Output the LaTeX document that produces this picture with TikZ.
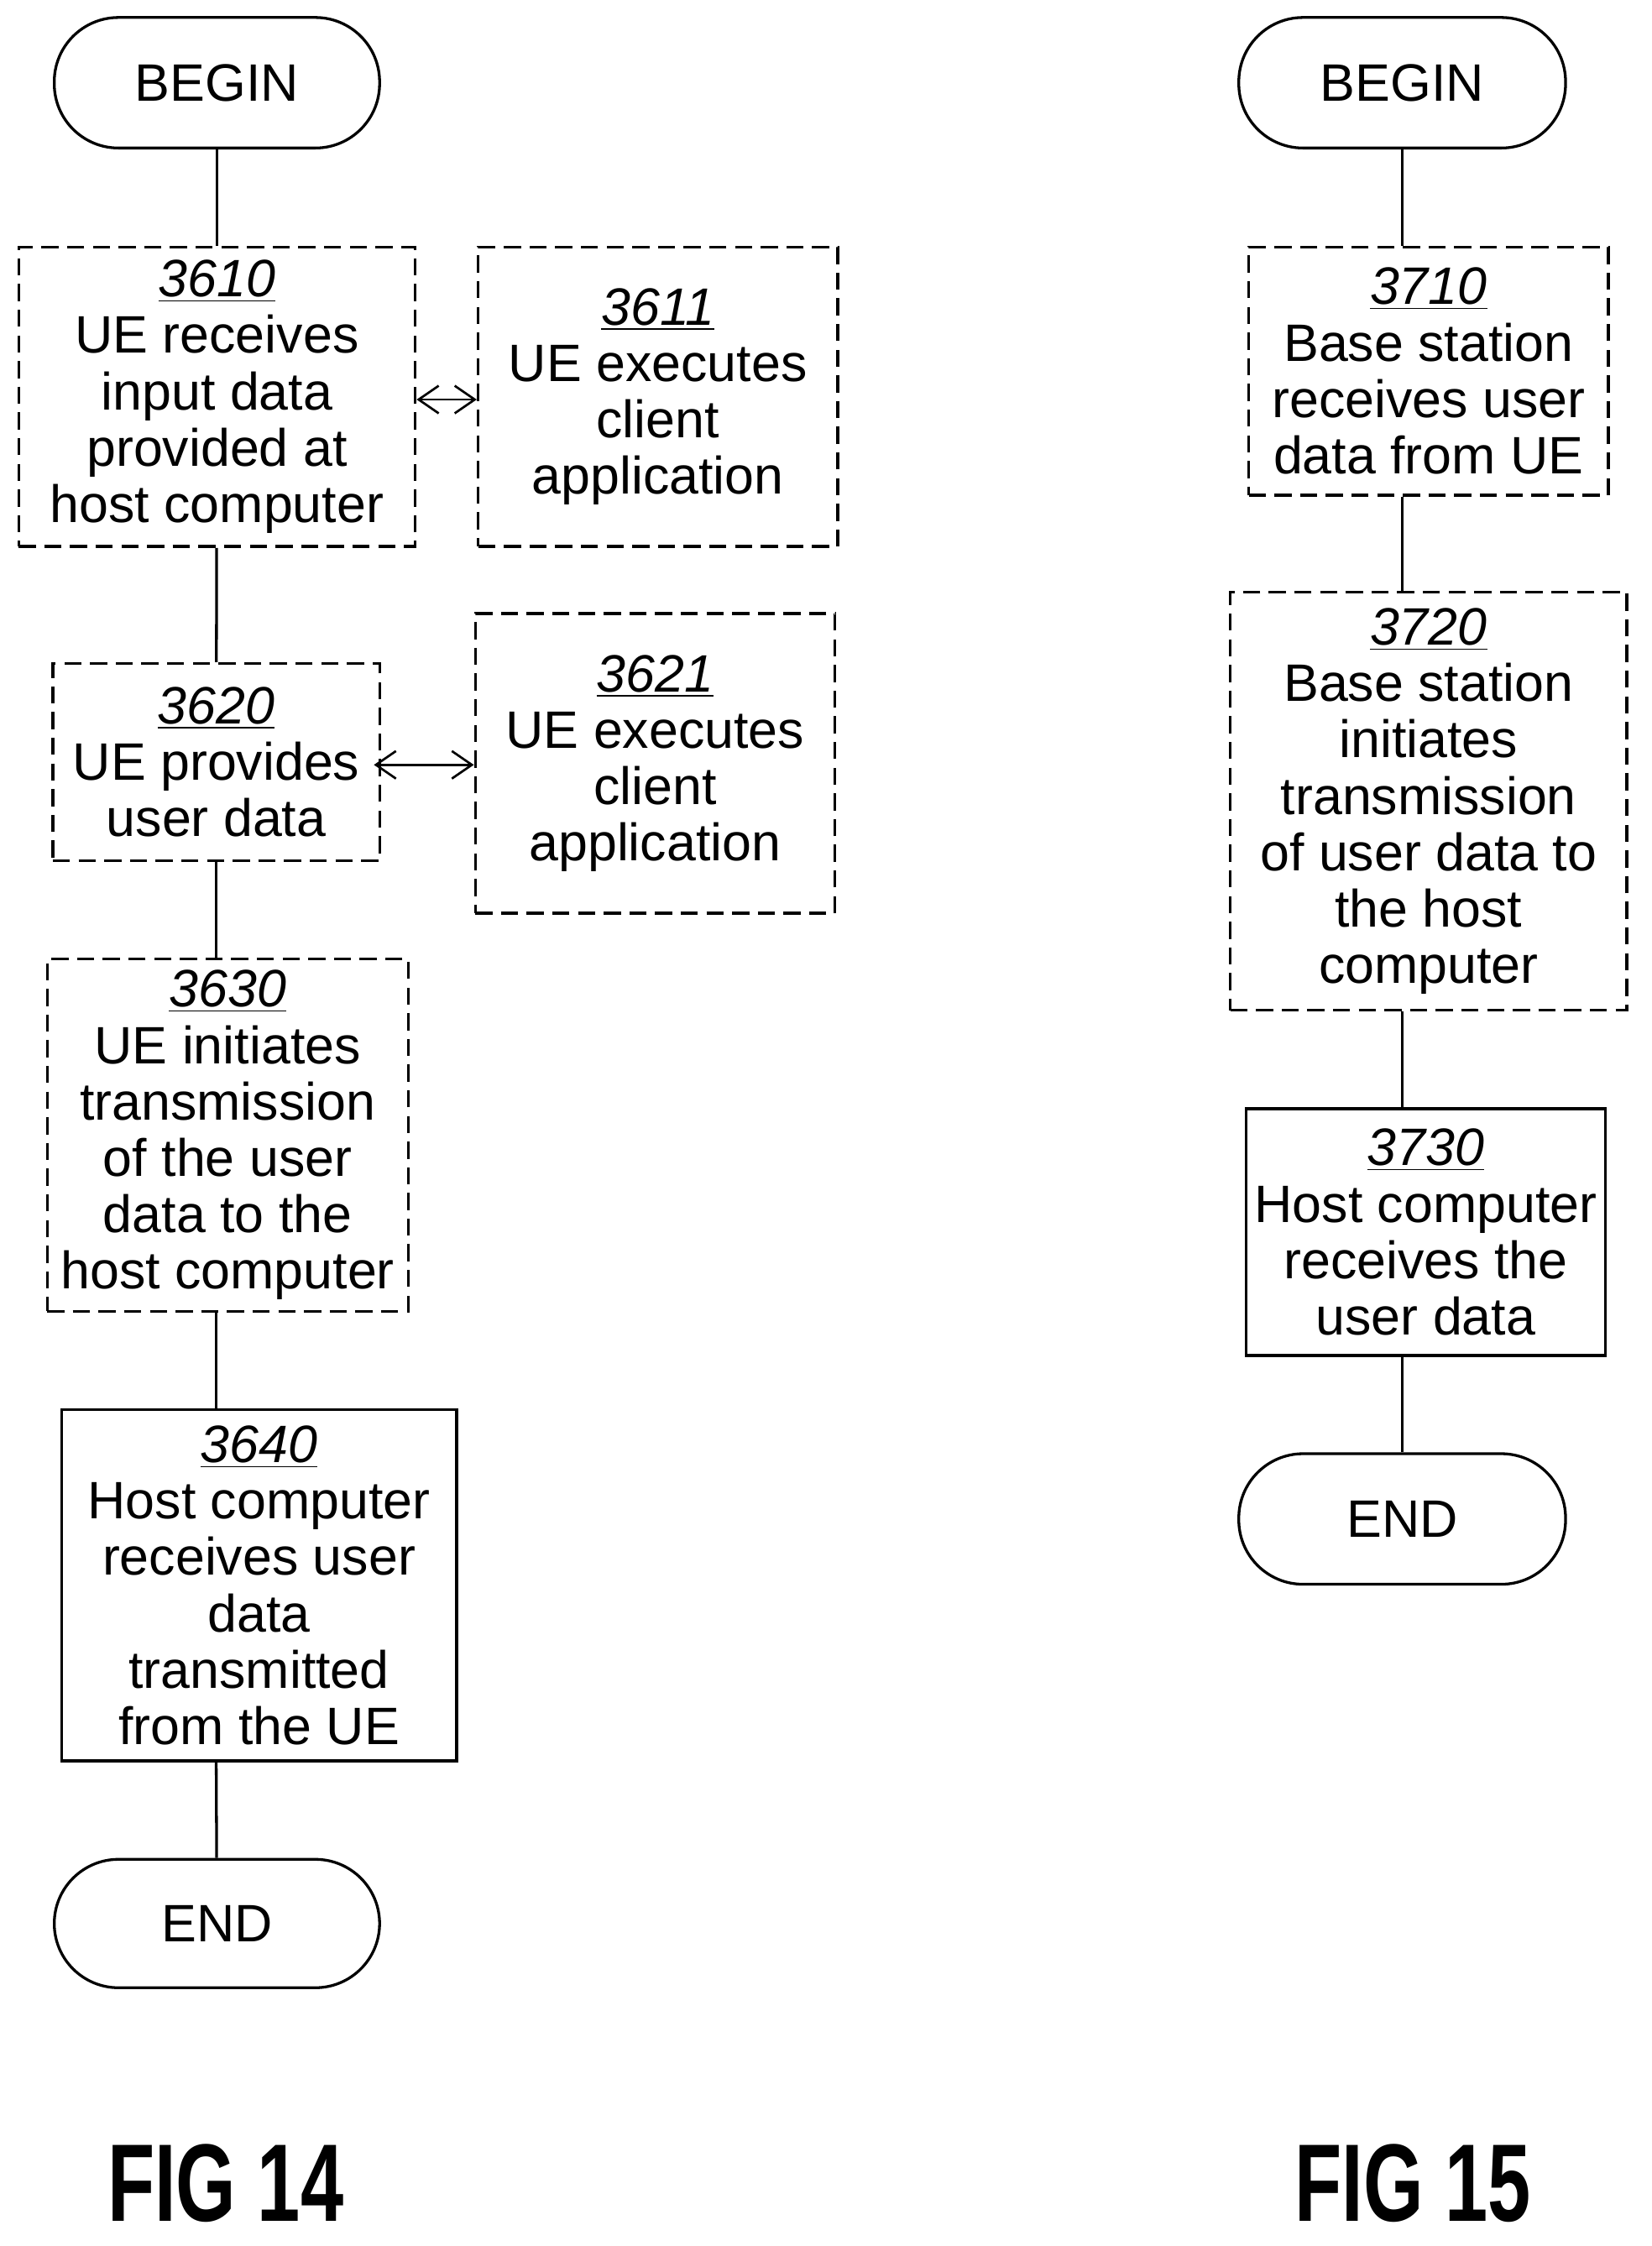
\documentclass[tikz,border=0pt]{standalone}
\usepackage{fontspec}
\setmainfont{Liberation Sans}
\usetikzlibrary{arrows.meta}
\begin{document}
\begin{tikzpicture}[x=0.02cm,y=-0.02cm,line width=1.1pt,
 box/.style={draw,rectangle,align=center,inner sep=0pt,font=\fontsize{21}{22.5}\selectfont},
 dbox/.style={box,dash pattern=on 0.24cm off 0.12cm},
 term/.style={draw,rectangle,rounded corners=0.9cm,minimum width=4.56cm,minimum height=1.83cm,font=\fontsize{21}{22.5}\selectfont},
 fig/.style={font=\fontsize{44}{44}\selectfont\bfseries,xscale=0.7},
 dbl/.style={{Straight Barb[length=8pt,width=11pt]}-{Straight Barb[length=8pt,width=11pt]},line width=0.9pt}]
\useasboundingbox (0,0) rectangle (1157,1574);
\newcommand{\num}[1]{\underline{\textit{#1}}}
% FIG 14
\node[term] (b1) at (152,58) {BEGIN};
\node[dbox,minimum width=5.56cm,minimum height=4.2cm] (s3610) at (152,278) {\num{3610}\\UE receives\\input data\\provided at\\host computer};
\node[dbox,minimum width=5.04cm,minimum height=4.2cm] (s3611) at (461,278) {\num{3611}\\UE executes\\client\\application};
\node[dbox,minimum width=4.58cm,minimum height=2.76cm] (s3620) at (151.5,534) {\num{3620}\\UE provides\\user data};
\node[dbox,minimum width=5.04cm,minimum height=4.2cm] (s3621) at (459,535) {\num{3621}\\UE executes\\client\\application};
\node[dbox,minimum width=5.06cm,minimum height=4.94cm] (s3630) at (159.5,795.5) {\num{3630}\\UE initiates\\transmission\\of the user\\data to the\\host computer};
\node[box,minimum width=5.54cm,minimum height=4.92cm] (s3640) at (181.5,1111) {\num{3640}\\Host computer\\receives user\\data\\transmitted\\from the UE};
\node[term,minimum height=1.8cm] (e1) at (152,1348) {END};
\node[fig] (f14) at (158,1530) {FIG 14};
\draw (b1) -- (s3610);
\draw (s3610) -- (s3620);
\draw (s3620.south) -- (s3620.south |- s3630.north);
\draw (s3620.south |- s3630.south) -- (s3620.south |- s3640.north);
\draw (s3620.south |- s3640.south) -- (e1);
\draw[dbl] (s3610.east |- 0,280) -- (s3611.west |- 0,280);
\draw[dbl] (262,536) -- (s3621.west |- 0,536);
% FIG 15
\node[term,minimum width=4.58cm] (b2) at (982.5,58) {BEGIN};
\node[dbox,minimum width=5.04cm,minimum height=3.48cm] (s3710) at (1001,260) {\num{3710}\\Base station\\receives user\\data from UE};
\node[dbox,minimum width=5.56cm,minimum height=5.86cm] (s3720) at (1001,561.5) {\num{3720}\\Base station\\initiates\\transmission\\of user data to\\the host\\computer};
\node[box,minimum width=5.04cm,minimum height=3.46cm] (s3730) at (999,863.5) {\num{3730}\\Host computer\\receives the\\user data};
\node[term,minimum width=4.58cm] (e2) at (982.5,1064.5) {END};
\node[fig] (f15) at (990,1530) {FIG 15};
\draw (b2.south) -- (b2.south |- s3710.north);
\draw (b2.south |- s3710.south) -- (b2.south |- s3720.north);
\draw (b2.south |- s3720.south) -- (b2.south |- s3730.north);
\draw (b2.south |- s3730.south) -- (e2);
\end{tikzpicture}
\end{document}
